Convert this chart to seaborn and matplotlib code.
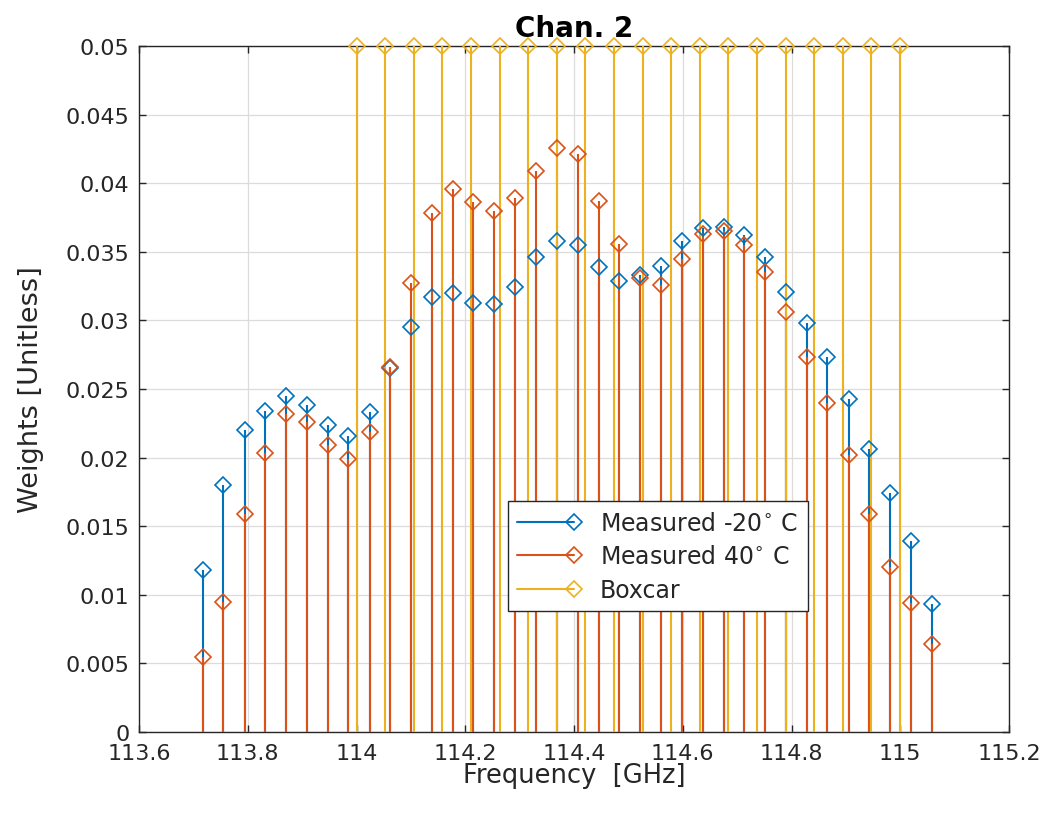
import numpy as np
import matplotlib
matplotlib.use("Agg")
import matplotlib.pyplot as plt
import seaborn as sns
from matplotlib.lines import Line2D
from matplotlib.legend_handler import HandlerBase

# ---------------- data ----------------
freq_meas = [113.717, 113.755, 113.794, 113.832, 113.870, 113.909, 113.947, 113.985,
             114.024, 114.062, 114.100, 114.139, 114.177, 114.215, 114.253, 114.292,
             114.330, 114.368, 114.407, 114.445, 114.483, 114.522, 114.560, 114.598,
             114.637, 114.675, 114.713, 114.752, 114.790, 114.828, 114.866, 114.905,
             114.943, 114.981, 115.020, 115.058]
w_cold = [0.0118, 0.0180, 0.0220, 0.0234, 0.0245, 0.0238, 0.0224, 0.0216,
          0.0233, 0.0265, 0.0295, 0.0317, 0.0320, 0.0313, 0.0312, 0.0324,
          0.0346, 0.0358, 0.0355, 0.0339, 0.0329, 0.0333, 0.0340, 0.0358,
          0.0367, 0.0368, 0.0362, 0.0346, 0.0321, 0.0298, 0.0273, 0.0243,
          0.0206, 0.0174, 0.0139, 0.0093]
w_hot = [0.0055, 0.0095, 0.0159, 0.0203, 0.0232, 0.0226, 0.0209, 0.0199,
         0.0219, 0.0266, 0.0327, 0.0378, 0.0396, 0.0386, 0.0380, 0.0389,
         0.0409, 0.0426, 0.0421, 0.0387, 0.0356, 0.0331, 0.0326, 0.0345,
         0.0363, 0.0365, 0.0355, 0.0335, 0.0306, 0.0273, 0.0240, 0.0202,
         0.0159, 0.0120, 0.0094, 0.0064]
freq_box = [114.000, 114.053, 114.105, 114.158, 114.211, 114.263, 114.316, 114.368,
            114.421, 114.474, 114.526, 114.579, 114.632, 114.684, 114.737, 114.789,
            114.842, 114.895, 114.947, 115.000]
w_box = [0.05] * 20

series_labels = ["Measured -20$^{\\circ}$ C", "Measured 40$^{\\circ}$ C", "Boxcar"]
xticks = [113.6, 113.8, 114.0, 114.2, 114.4, 114.6, 114.8, 115.0, 115.2]
xtick_labels = ["113.6", "113.8", "114", "114.2", "114.4", "114.6", "114.8", "115", "115.2"]
yticks = [0, 0.005, 0.01, 0.015, 0.02, 0.025, 0.03, 0.035, 0.04, 0.045, 0.05]
ytick_labels = ["0", "0.005", "0.01", "0.015", "0.02", "0.025", "0.03", "0.035", "0.04", "0.045", "0.05"]

colors = ["#0072BD", "#D95319", "#EDB120"]

# ---------------- style ----------------
sns.set_theme(style="whitegrid")
plt.rcParams['font.family'] = ['DejaVu Sans']

fig = plt.figure(figsize=(10.5, 8.2), dpi=100)
ax = fig.add_axes([0.1324, 0.1061, 0.8286, 0.8366])
ax.set_facecolor("white")

datasets = [(freq_meas, w_cold), (freq_meas, w_hot), (freq_box, w_box)]
for (fx, fy), c in zip(datasets, colors):
    ax.vlines(fx, 0, fy, colors=c, linewidth=1.5, zorder=3)
    ax.plot(fx, fy, linestyle="none", marker="D", markersize=8.5,
            markerfacecolor="none", markeredgecolor=c, markeredgewidth=1.2,
            zorder=4, clip_on=False)

ax.set_xlim(113.6, 115.2)
ax.set_ylim(0, 0.05)
ax.set_xticks(xticks)
ax.set_xticklabels(xtick_labels)
ax.set_yticks(yticks)
ax.set_yticklabels(ytick_labels)

ax.grid(True, color="#dcdcdc", linewidth=0.9)
ax.set_axisbelow(True)
for s in ax.spines.values():
    s.set_visible(True)
    s.set_color("#262626")
    s.set_linewidth(1.0)
ax.tick_params(axis="both", which="both", direction="in", length=5, width=1,
               color="#262626", labelsize=16, labelcolor="#262626",
               top=True, right=True, bottom=True, left=True)
ax.tick_params(axis="x", pad=8)
ax.tick_params(axis="y", pad=7)

ax.set_xlabel("Frequency  [GHz]", fontsize=18.5, color="#262626", labelpad=-1)
ax.set_ylabel("Weights [Unitless]", fontsize=19.5, color="#262626", labelpad=15)
ax.set_title("Chan. 2", fontsize=20, fontweight="bold", color="black", pad=7)


class StemLegendHandler(HandlerBase):
    def create_artists(self, legend, orig_handle, xdescent, ydescent, width,
                       height, fontsize, trans):
        c = orig_handle.get_color()
        y = height / 2 - ydescent
        line = Line2D([-xdescent, -xdescent + width], [y, y], color=c,
                      linewidth=1.5, transform=trans)
        mk = Line2D([-xdescent + width], [y], linestyle="none", marker="D",
                    markersize=8.5, markerfacecolor="none", markeredgecolor=c,
                    markeredgewidth=1.2, transform=trans)
        return [line, mk]


handles = [Line2D([], [], color=c) for c in colors]
leg = ax.legend(handles, series_labels, loc="lower left",
                bbox_to_anchor=(0.424, 0.176), fontsize=17, frameon=True,
                fancybox=False, edgecolor="#262626", framealpha=1,
                handlelength=2.4, handletextpad=1.1, borderpad=0.4,
                labelspacing=0.4, borderaxespad=0,
                handler_map={Line2D: StemLegendHandler()})
leg.get_frame().set_linewidth(1.0)
for t in leg.get_texts():
    t.set_color("#262626")

fig.savefig("out.png", dpi=100, facecolor="white")
